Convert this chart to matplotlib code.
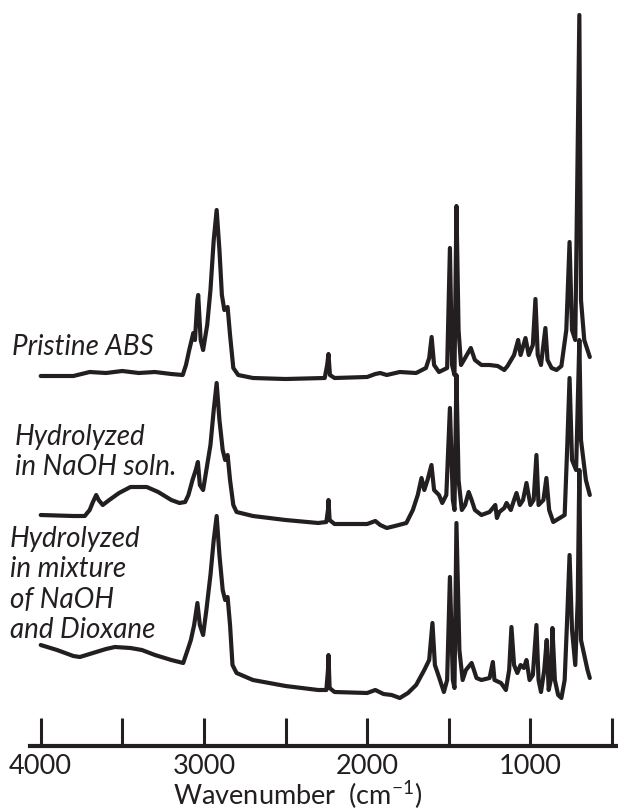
import numpy as np
import matplotlib
matplotlib.use('Agg')
import matplotlib.pyplot as plt
from matplotlib.ticker import MultipleLocator, NullFormatter

# 字体设置
plt.rcParams['font.family'] = ['Lato', 'DejaVu Sans']
plt.rcParams['mathtext.fontset'] = 'custom'
plt.rcParams['mathtext.rm'] = 'Lato'

LINE_COLOR = '#231f20'

# ---- 数据: 波数 (cm-1) 与吸光度 (a.u., 相对各自基线) ----
# Pristine ABS
wn_pristine = [4000, 3800, 3700, 3600, 3500, 3400, 3300, 3200, 3130, 3110, 3090, 3065, 3055,
               3040, 3035, 3020, 3005, 2980, 2960, 2940, 2922, 2905, 2890, 2875, 2855, 2840,
               2820, 2790, 2700, 2500, 2260, 2245, 2237, 2228, 2200, 2000, 1950, 1920, 1880,
               1800, 1700, 1640, 1620, 1605, 1590, 1560, 1510, 1493, 1480, 1465, 1453, 1440,
               1425, 1400, 1365, 1340, 1300, 1250, 1200, 1160, 1140, 1100, 1075, 1060, 1030,
               1010, 985, 969, 955, 935, 908, 895, 870, 840, 810, 780, 760, 745, 725, 700,
               690, 670, 650, 636]
abs_pristine = [0.02, 0.02, 0.06, 0.05, 0.07, 0.05, 0.06, 0.04, 0.03, 0.13, 0.28, 0.45, 0.38,
                0.78, 0.83, 0.38, 0.28, 0.53, 0.88, 1.38, 1.68, 1.28, 0.83, 0.68, 0.71, 0.43,
                0.10, 0.03, 0.00, -0.01, 0.00, 0.13, 0.24, 0.03, 0.00, 0.01, 0.04, 0.05, 0.03,
                0.06, 0.05, 0.10, 0.20, 0.41, 0.13, 0.06, 0.10, 1.30, 0.13, 0.03, 1.72, 0.48,
                0.13, 0.20, 0.30, 0.18, 0.13, 0.13, 0.12, 0.08, 0.12, 0.23, 0.38, 0.23, 0.40,
                0.23, 0.33, 0.79, 0.23, 0.13, 0.50, 0.18, 0.10, 0.08, 0.12, 0.48, 1.36, 0.48,
                0.38, 3.63, 0.78, 0.38, 0.28, 0.21]

# Hydrolyzed in NaOH soln.
wn_naoh = [4000, 3800, 3730, 3700, 3680, 3660, 3645, 3620, 3580, 3520, 3450, 3350, 3280,
           3200, 3150, 3115, 3095, 3070, 3050, 3037, 3025, 3005, 2985, 2960, 2940, 2922,
           2905, 2885, 2870, 2855, 2840, 2820, 2800, 2700, 2500, 2300, 2250, 2240, 2237,
           2230, 2200, 2000, 1950, 1920, 1880, 1830, 1760, 1720, 1690, 1667, 1650, 1630,
           1606, 1590, 1560, 1540, 1515, 1493, 1475, 1465, 1453, 1440, 1420, 1400, 1378,
           1360, 1340, 1300, 1250, 1215, 1205, 1190, 1160, 1146, 1120, 1100, 1085, 1065,
           1045, 1024, 1000, 980, 963, 950, 920, 902, 885, 860, 820, 790, 775, 760, 745,
           720, 700, 690, 660, 636]
abs_naoh = [0.10, 0.09, 0.09, 0.15, 0.23, 0.30, 0.25, 0.20, 0.25, 0.32, 0.38, 0.38, 0.33,
            0.25, 0.22, 0.23, 0.30, 0.45, 0.55, 0.63, 0.40, 0.35, 0.55, 0.80, 1.15, 1.42,
            1.05, 0.75, 0.65, 0.70, 0.45, 0.20, 0.13, 0.09, 0.05, 0.02, 0.03, 0.15, 0.25,
            0.05, 0.01, 0.01, 0.04, 0.00, -0.03, -0.01, 0.02, 0.15, 0.30, 0.47, 0.35, 0.45,
            0.60, 0.35, 0.30, 0.22, 0.30, 1.17, 0.25, 0.15, 1.50, 0.45, 0.15, 0.20, 0.33,
            0.25, 0.15, 0.10, 0.13, 0.20, 0.07, 0.13, 0.17, 0.22, 0.15, 0.25, 0.32, 0.20,
            0.25, 0.42, 0.20, 0.25, 0.70, 0.20, 0.25, 0.47, 0.15, 0.03, 0.07, 0.10, 0.75,
            1.47, 0.65, 0.55, 1.85, 0.85, 0.45, 0.30]

# Hydrolyzed in mixture of NaOH and Dioxane
wn_dioxane = [4000, 3900, 3800, 3760, 3700, 3600, 3545, 3450, 3380, 3300, 3200, 3127, 3100,
              3080, 3060, 3040, 3025, 3005, 2985, 2960, 2940, 2922, 2905, 2885, 2870, 2855,
              2840, 2825, 2800, 2700, 2500, 2300, 2250, 2240, 2237, 2230, 2200, 2000, 1950,
              1900, 1850, 1800, 1750, 1700, 1650, 1620, 1600, 1585, 1560, 1530, 1510, 1493,
              1475, 1465, 1453, 1435, 1415, 1395, 1360, 1330, 1300, 1250, 1230, 1220, 1180,
              1150, 1130, 1116, 1100, 1080, 1060, 1040, 1024, 1005, 985, 963, 950, 935, 915,
              900, 888, 875, 865, 850, 830, 810, 790, 775, 760, 745, 725, 710, 700, 690, 670,
              650, 636]
abs_dioxane = [0.51, 0.46, 0.40, 0.39, 0.42, 0.47, 0.49, 0.48, 0.46, 0.41, 0.36, 0.33, 0.46,
               0.56, 0.71, 0.93, 0.71, 0.61, 0.86, 1.21, 1.56, 1.80, 1.41, 1.06, 0.96, 0.99,
               0.71, 0.31, 0.23, 0.16, 0.10, 0.06, 0.06, 0.26, 0.41, 0.08, 0.04, 0.03, 0.06,
               0.02, 0.01, -0.02, 0.03, 0.11, 0.26, 0.36, 0.73, 0.31, 0.19, 0.04, 0.16, 1.19,
               0.16, 0.08, 1.73, 0.46, 0.16, 0.26, 0.33, 0.18, 0.16, 0.18, 0.34, 0.16, 0.13,
               0.06, 0.26, 0.69, 0.31, 0.23, 0.31, 0.28, 0.36, 0.16, 0.21, 0.71, 0.16, 0.04,
               0.26, 0.56, 0.06, 0.16, 0.68, 0.16, 0.01, -0.02, 0.16, 0.76, 1.41, 0.66, 0.31,
               0.96, 2.26, 0.56, 0.41, 0.26, 0.18]

# 每条谱线的竖直偏移量 (a.u.)
offsets = [3.68, 2.21, 0.50]

sample_labels = [
    ['Pristine ABS'],
    ['Hydrolyzed', 'in NaOH soln.'],
    ['Hydrolyzed', 'in mixture', 'of NaOH', 'and Dioxane'],
]

spectra = [(wn_pristine, abs_pristine), (wn_naoh, abs_naoh), (wn_dioxane, abs_dioxane)]

# ---- 绘图 ----
W, H = 618, 810
fig = plt.figure(figsize=(W / 100, H / 100), dpi=100)
# 坐标轴: 横轴线位于 y=746 px, 从 x=30 px 延伸到右边缘
ax = fig.add_axes([30 / W, (H - 746) / H, (W - 30) / W, 746 / H])

for (wn, a), off in zip(spectra, offsets):
    ax.plot(wn, np.array(a) + off, color=LINE_COLOR, linewidth=3.0,
            solid_joinstyle='round', solid_capstyle='round')

# 4000 -> 40.7 px, 500 -> 612 px
px_per_wn = (612 - 40.7) / 3500
ax.set_xlim(4000 + (40.7 - 30) / px_per_wn, 4000 - (W - 40.7) / px_per_wn)
ax.set_ylim(0, 7.46)

for side in ['left', 'right', 'top']:
    ax.spines[side].set_visible(False)
ax.spines['bottom'].set_linewidth(3)
ax.spines['bottom'].set_color(LINE_COLOR)
ax.set_yticks([])

ax.xaxis.set_major_locator(MultipleLocator(1000))
ax.xaxis.set_minor_locator(MultipleLocator(500))
ax.xaxis.set_minor_formatter(NullFormatter())
ax.tick_params(axis='x', which='both', direction='in', length=20, width=2.2,
               color=LINE_COLOR, labelsize=19.5, labelcolor=LINE_COLOR, pad=6)

ax.set_xlabel('Wavenumber  (cm$^{\\mathrm{-1}}$)', fontsize=19.5, color=LINE_COLOR)
ax.xaxis.set_label_coords((298 - 30) / (W - 30), -0.044)

# 样品标注 (左侧, 斜体)
label_pos = [(12, 355), (15, 445), (10, 547)]
for lines, (x0, y0) in zip(sample_labels, label_pos):
    for i, line in enumerate(lines):
        fig.text(x0 / W, 1 - (y0 + i * 30.3) / H, line, fontsize=20, style='italic',
                 color=LINE_COLOR, ha='left', va='baseline')

fig.savefig('out.png', dpi=100)
